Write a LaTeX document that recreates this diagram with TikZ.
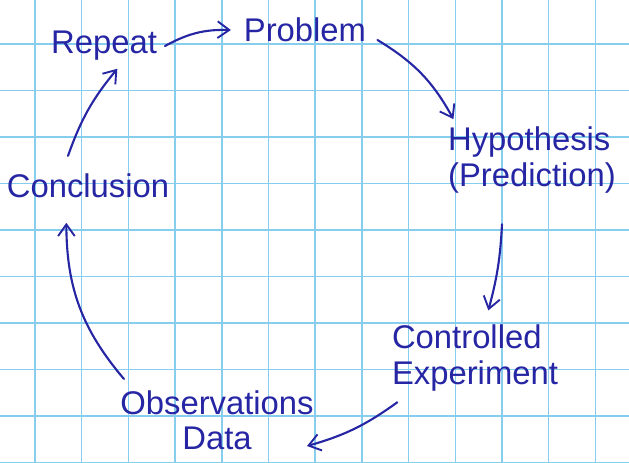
\documentclass[tikz,border=0pt]{standalone}
\usepackage{fontspec}
\setmainfont{Liberation Sans}
\usepackage{xcolor}
\usetikzlibrary{positioning, arrows.meta}
\definecolor{ink}{RGB}{38,38,165}
\definecolor{paper}{RGB}{135,205,238}

\begin{document}
\begin{tikzpicture}[x=0.03cm, y=-0.03cm,
	stage/.style={text=ink, font=\fontsize{28}{30}\selectfont, inner sep=1pt},
	flow/.style={ink, line width=1.8pt, line cap=round, -{Straight Barb[length=3.5mm, width=5mm, line width=1.6pt]}},
	gridline/.style={paper, line width=1.3pt}]
	\useasboundingbox (0,0) rectangle (629,462);
	\fill[white] (0,0) rectangle (629,462);
	\foreach \gx in {0,...,12} \draw[gridline] (35+46.7*\gx,0)--(35+46.7*\gx,462);
	\foreach \gy in {0,...,9} \draw[gridline] (0,44+46.5*\gy)--(629,44+46.5*\gy);
	\node[stage] (repeat) at (104,46) {Repeat};
	\node[stage] (problem) at (305,30) {Problem};
	\node[stage, align=left] (hypothesis) at (532,160) {Hypothesis\\(Prediction)};
	\node[stage, align=left] (controlled) at (475,358) {Controlled\\Experiment};
	\node[stage, align=center] (observations) at (217,420) {Observations\\Data};
	\node[stage] (conclusion) at (88,186) {Conclusion};
	\draw[flow] ([xshift=0.2cm]repeat.east) to[bend left=15] ([xshift=-0.35cm]problem.west);
	\draw[flow] ([xshift=0.3cm, yshift=-0.3cm]problem.east) to[bend left=15] ([xshift=0.2cm, yshift=0.2cm]hypothesis.north west);
	\draw[flow] ([xshift=-0.9cm, yshift=-0.9cm]hypothesis.south) to[bend left=6] ([xshift=0.4cm, yshift=0.4cm]controlled.north);
	\draw[flow] ([xshift=0.2cm, yshift=-0.3cm]controlled.south west) to[bend left=10] ([xshift=2.7cm, yshift=0.15cm]observations.south);
	\draw[flow] ([xshift=0.15cm, yshift=0.3cm]observations.north west) to[bend left=20] ([xshift=-0.65cm, yshift=-0.7cm]conclusion.south);
	\draw[flow] ([xshift=-0.6cm, yshift=0.5cm]conclusion.north) to[bend left=10] ([xshift=0.4cm, yshift=-0.2cm]repeat.south);
\end{tikzpicture}
\end{document}
